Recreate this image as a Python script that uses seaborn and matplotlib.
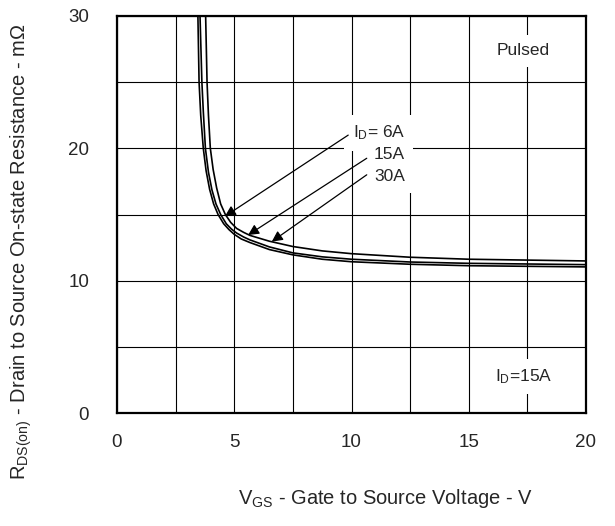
import matplotlib
matplotlib.use("Agg")
import matplotlib.pyplot as plt
import seaborn as sns
import pandas as pd
from matplotlib.ticker import MultipleLocator

# On-resistance vs gate-source voltage, three drain currents
vgs_6a = [3.45, 3.50, 3.57, 3.68, 3.80, 3.95, 4.12, 4.31, 4.55, 4.78, 5.0, 5.3, 5.67,
          6.5, 7.5, 8.75, 10, 12.5, 15, 20]
rds_6a = [30, 25, 22.5, 20, 18.3, 16.9, 15.8, 15.0, 14.3, 13.85, 13.5, 13.15, 12.88,
          12.35, 11.95, 11.62, 11.43, 11.24, 11.13, 11.04]

vgs_15a = [3.54, 3.62, 3.68, 3.77, 3.90, 4.05, 4.22, 4.42, 4.66, 4.88, 5.1, 5.4, 5.67,
           6.5, 7.5, 8.75, 10, 12.5, 15, 20]
rds_15a = [30, 25, 22.8, 20, 18.2, 16.85, 15.8, 15.0, 14.3, 13.9, 13.6, 13.3, 13.08,
           12.55, 12.1, 11.8, 11.62, 11.41, 11.31, 11.21]

vgs_30a = [3.78, 3.84, 3.90, 3.98, 4.10, 4.25, 4.42, 4.62, 4.85, 5.1, 5.4, 5.67,
           6.5, 7.5, 8.75, 10, 12.5, 15, 20]
rds_30a = [30, 25, 22.5, 20, 18.4, 17.0, 15.8, 15.0, 14.4, 13.95, 13.65, 13.42,
           12.98, 12.58, 12.25, 12.04, 11.77, 11.62, 11.49]

current_labels = ["6A", "15A", "30A"]
x_ticks = [0, 5, 10, 15, 20]
y_ticks = [0, 10, 20, 30]

frames = []
for lab, v, r in zip(current_labels, [vgs_6a, vgs_15a, vgs_30a], [rds_6a, rds_15a, rds_30a]):
    frames.append(pd.DataFrame({"vgs": v, "rds": r, "id": lab}))
df = pd.concat(frames, ignore_index=True)

sns.set_style("white")
plt.rcParams["font.family"] = ["Liberation Sans", "DejaVu Sans"]
plt.rcParams["mathtext.fontset"] = "custom"
plt.rcParams["mathtext.rm"] = "Liberation Sans"
plt.rcParams["mathtext.it"] = "Liberation Sans"

fig = plt.figure(figsize=(6.15, 5.26), dpi=100)
ax = fig.add_axes([117 / 615, 1 - 413 / 526, (586 - 117) / 615, (413 - 16) / 526])

sns.lineplot(data=df, x="vgs", y="rds", hue="id", units="id", estimator=None,
             palette=["black"] * 3, linewidth=1.2, legend=False, sort=False, ax=ax)

ax.set_xlim(0, 20)
ax.set_ylim(0, 30)
ax.set_xticks(x_ticks)
ax.set_yticks(y_ticks)
ax.xaxis.set_minor_locator(MultipleLocator(2.5))
ax.yaxis.set_minor_locator(MultipleLocator(5))
ax.grid(True, which="both", color="black", linewidth=0.8)
ax.set_axisbelow(True)
ax.tick_params(which="both", length=0)
ax.tick_params(axis="x", labelsize=13.5, pad=15)
ax.tick_params(axis="y", labelsize=13.5, pad=20)
for s in ax.spines.values():
    s.set_color("black")
    s.set_linewidth(1.6)
ax.set_xlabel("")
ax.set_ylabel("")

fig.text(385 / 615, 1 - 498 / 526, r"$\mathrm{V_{GS}}$ - Gate to Source Voltage - V",
         ha="center", va="center", fontsize=14.5)
fig.text(21 / 615, 1 - 252 / 526,
         r"$\mathrm{R_{DS(on)}}$ - Drain to Source On-state Resistance - m$\Omega$",
         ha="center", va="center", rotation=90, fontsize=14.5)

box = dict(facecolor="white", edgecolor="none", pad=6)
ax.text(17.31, 27.36, "Pulsed", ha="center", va="center", fontsize=12.5, bbox=box)
ax.text(17.33, 2.74, r"$\mathrm{I_D}$=15A", ha="center", va="center", fontsize=12.5, bbox=box)

ax.text(12.28, 21.16, r"$\mathrm{I_D}$= 6A", ha="right", va="center", fontsize=12.5, bbox=box, zorder=5)
ax.text(12.28, 19.5, "15A", ha="right", va="center", fontsize=12.5, bbox=box, zorder=5)
ax.text(12.28, 17.84, "30A", ha="right", va="center", fontsize=12.5, bbox=box, zorder=5)

arrow = dict(arrowstyle="-|>", color="black", lw=0.9, mutation_scale=16,
             shrinkA=0, shrinkB=0)
ax.annotate("", xy=(4.6, 14.86), xytext=(9.86, 21.0), arrowprops=arrow, zorder=6)
ax.annotate("", xy=(5.59, 13.45), xytext=(10.65, 19.25), arrowprops=arrow, zorder=6)
ax.annotate("", xy=(6.6, 12.95), xytext=(10.65, 18.0), arrowprops=arrow, zorder=6)

fig.savefig("out.png", dpi=100, facecolor="white")
